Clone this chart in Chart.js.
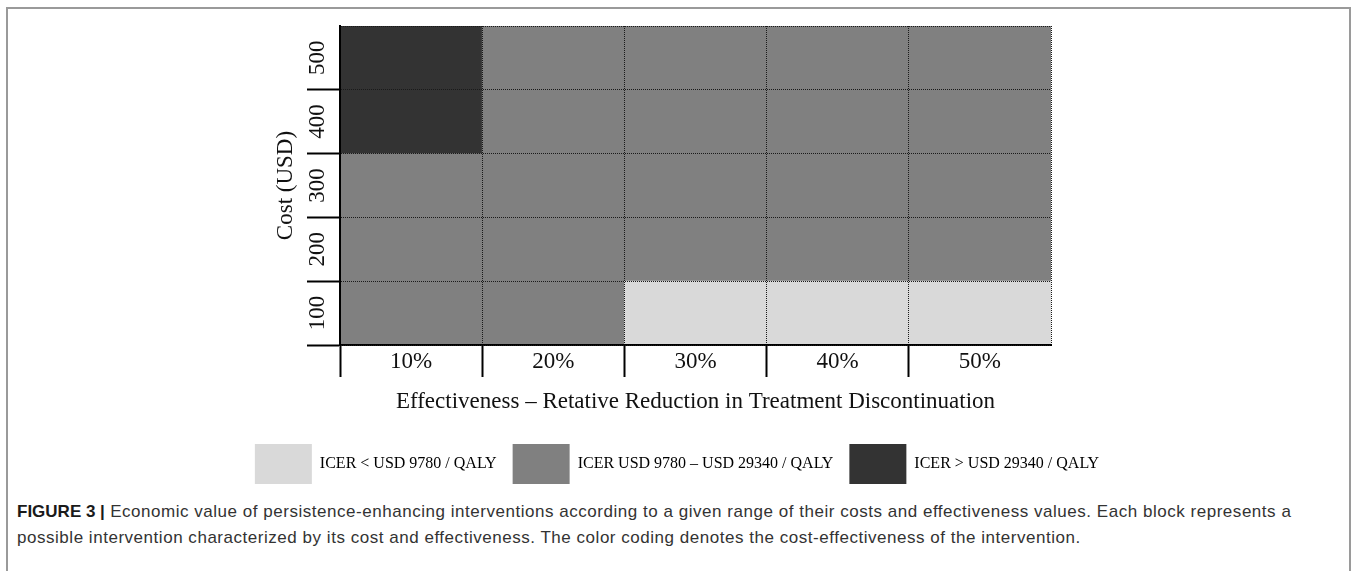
<!DOCTYPE html>
<html>
<head>
<meta charset="utf-8">
<title>Figure 3</title>
<script src="https://cdn.jsdelivr.net/npm/chart.js@4.4.1/dist/chart.umd.min.js"></script>
<style>
  html, body { margin: 0; padding: 0; background: #fff; overflow: hidden; }
  body { width: 1354px; height: 571px; position: relative; }
  #frame {
    position: absolute; left: 6px; top: 7px; width: 1345px; height: 620px;
    border: 2px solid #9a9a9a; box-sizing: border-box;
  }
  #wrap { position: absolute; left: 0; top: 0; width: 1354px; height: 494px; }
  #caption {
    position: absolute; left: 17px; top: 499px; width: 1330px;
    font-family: 'Liberation Sans', Arial, sans-serif; font-size: 17px;
    letter-spacing: 0.53px; line-height: 26px; color: #333; white-space: nowrap;
  }
  #caption b { color: #1a1a1a; letter-spacing: 0; }
</style>
</head>
<body>
<div id="frame"></div>
<div id="wrap"><canvas id="myChart"></canvas></div>
<div id="caption"><b>FIGURE 3 |</b> Economic value of persistence-enhancing interventions according to a given range of their costs and effectiveness values. Each block represents a<br>possible intervention characterized by its cost and effectiveness. The color coding denotes the cost-effectiveness of the intervention.</div>

<script>
// 데이터
const effectiveness = ['10%', '20%', '30%', '40%', '50%'];
const costs = [100, 200, 300, 400, 500];
const icerBands = ['ICER < USD 9780 / QALY', 'ICER USD 9780 – USD 29340 / QALY', 'ICER > USD 29340 / QALY'];

// 각 셀의 ICER 구간 (0 = 낮음, 1 = 중간, 2 = 높음), 열 순서는 effectiveness
const bandsCost100 = [1, 1, 0, 0, 0];
const bandsCost200 = [1, 1, 1, 1, 1];
const bandsCost300 = [1, 1, 1, 1, 1];
const bandsCost400 = [2, 1, 1, 1, 1];
const bandsCost500 = [2, 1, 1, 1, 1];

const xTitle = 'Effectiveness – Retative Reduction in Treatment Discontinuation';
const yTitle = 'Cost (USD)';

const bandColors = ['#d9d9d9', '#808080', '#333333'];
const rows = [bandsCost100, bandsCost200, bandsCost300, bandsCost400, bandsCost500];
const half = (costs[1] - costs[0]) / 2;

Chart.defaults.font.family = "'Liberation Serif', 'Times New Roman', serif";
Chart.defaults.color = '#111';

// 비용 수준마다 하나의 데이터셋, 셀은 [cost-50, cost+50] 떠있는 막대
const datasets = costs.map(function(c, i) {
    return {
        label: 'USD ' + c,
        data: effectiveness.map(function() { return [c - half, c + half]; }),
        backgroundColor: rows[i].map(function(b) { return bandColors[b]; }),
        borderWidth: 0,
        grouped: false,
        barPercentage: 1,
        categoryPercentage: 1
    };
});

const ctx = document.getElementById('myChart').getContext('2d');
new Chart(ctx, {
    type: 'bar',
    data: { labels: effectiveness, datasets: datasets },
    options: {
        responsive: true,
        maintainAspectRatio: false,
        animation: false,
        layout: { padding: { top: 26, left: 0, right: 0, bottom: 0 } },
        plugins: {
            tooltip: { enabled: false },
            legend: {
                position: 'bottom',
                labels: {
                    boxWidth: 57,
                    boxHeight: 40,
                    padding: 16,
                    color: '#111',
                    font: { size: 16 },
                    generateLabels: function() {
                        return icerBands.map(function(t, i) {
                            return { text: t, fillStyle: bandColors[i], strokeStyle: 'rgba(0,0,0,0)', lineWidth: 0, hidden: false, datasetIndex: i };
                        });
                    }
                },
                onClick: function() {}
            }
        },
        scales: {
            x: {
                type: 'category',
                offset: true,
                grid: {
                    offset: true,
                    z: 1,
                    color: '#1a1a1a',
                    lineWidth: 1,
                    tickLength: 32,
                    tickWidth: 2,
                    tickColor: function(c) { return c.type === 'tick' ? '#000' : 'rgba(0,0,0,0)'; }
                },
                border: { display: true, color: '#000', width: 2, dash: [1, 1], z: 1 },
                ticks: { font: { size: 23 }, color: '#111', padding: -29, maxRotation: 0 },
                title: { display: true, text: xTitle, font: { size: 23 }, color: '#111', padding: { top: 0, bottom: 12 } },
                afterFit: function(s) { s.height = 83; }
            },
            y: {
                type: 'linear',
                min: costs[0] - half,
                max: costs[costs.length - 1] + half,
                afterBuildTicks: function(s) {
                    const t = costs.map(function(c) { return { value: c - half }; });
                    t.push({ value: costs[costs.length - 1] + half });
                    s.ticks = t;
                },
                grid: {
                    z: 1,
                    color: '#1a1a1a',
                    lineWidth: 1,
                    tickLength: 33,
                    tickWidth: 2,
                    tickColor: function(c) {
                        return c.tick && c.tick.value === costs[costs.length - 1] + half ? 'rgba(0,0,0,0)' : '#000';
                    }
                },
                border: { display: true, color: '#000', width: 2, dash: [1, 1], z: 1 },
                ticks: {
                    autoSkip: false,
                    font: { size: 23 },
                    color: '#111',
                    minRotation: 90,
                    maxRotation: 90,
                    crossAlign: 'center',
                    labelOffset: -32,
                    padding: -28,
                    callback: function(v) {
                        return costs.indexOf(v + half) >= 0 ? String(v + half) : '';
                    }
                },
                title: { display: true, text: yTitle, font: { size: 23 }, color: '#111', padding: { top: 272, bottom: 0 } },
                afterFit: function(s) { s.width = 340; }
            },
            // 오른쪽 여백용 빈 축
            yRight: {
                type: 'linear',
                position: 'right',
                display: true,
                grid: { display: false },
                border: { display: false },
                ticks: { display: false },
                afterFit: function(s) { s.width = 303; }
            }
        }
    }
});
</script>
</body>
</html>
